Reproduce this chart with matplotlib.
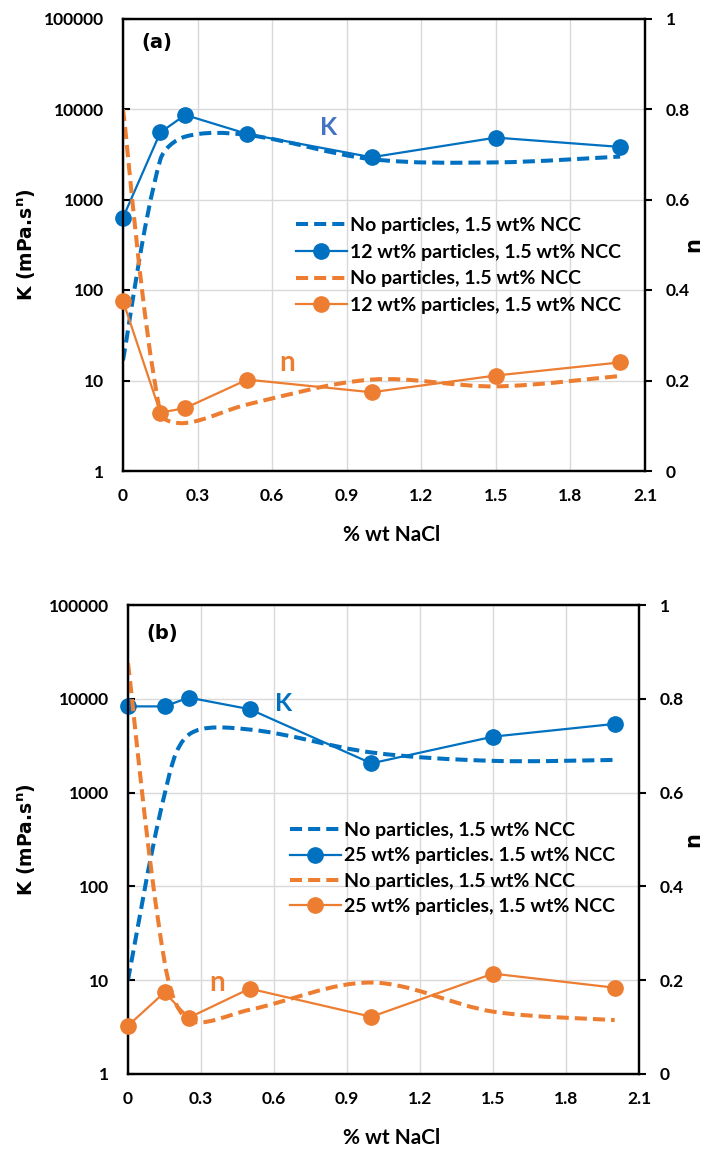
import numpy as np
import matplotlib
matplotlib.use("Agg")
import matplotlib.pyplot as plt
from matplotlib.path import Path
from matplotlib.patches import PathPatch
from matplotlib.lines import Line2D
from matplotlib.ticker import NullLocator

plt.rcParams['mathtext.fontset'] = 'dejavusans'

# ---------------- data ----------------
x_nacl = [0, 0.15, 0.25, 0.5, 1.0, 1.5, 2.0]

a_K_noparticles = [16.7, 2750, 4950, 5170, 2790, 2570, 2980]
a_K_particles = [630, 5500, 8600, 5300, 2930, 4830, 3810]
a_n_noparticles = [0.80, 0.128, 0.106, 0.147, 0.202, 0.187, 0.210]
a_n_particles = [0.376, 0.129, 0.139, 0.202, 0.174, 0.211, 0.240]

b_K_noparticles = [10, 950, 4150, 4700, 2680, 2180, 2230]
b_K_particles = [8300, 8300, 10300, 7750, 2050, 3950, 5400]
b_n_noparticles = [0.876, 0.24, 0.115, 0.137, 0.195, 0.133, 0.115]
b_n_particles = [0.103, 0.174, 0.120, 0.182, 0.122, 0.214, 0.184]

x_ticks = [0, 0.3, 0.6, 0.9, 1.2, 1.5, 1.8, 2.1]
x_ticklabels = ['0', '0.3', '0.6', '0.9', '1.2', '1.5', '1.8', '2.1']
k_ticks = [1, 10, 100, 1000, 10000, 100000]
k_ticklabels = ['1', '10', '100', '1000', '10000', '100000']
n_ticks = [0, 0.2, 0.4, 0.6, 0.8, 1.0]
n_ticklabels = ['0', '0.2', '0.4', '0.6', '0.8', '1']

legend_a = ['No particles, 1.5 wt% NCC', '12 wt% particles, 1.5 wt% NCC',
            'No particles, 1.5 wt% NCC', '12 wt% particles, 1.5 wt% NCC']
legend_b = ['No particles, 1.5 wt% NCC', '25 wt% particles. 1.5 wt% NCC',
            'No particles, 1.5 wt% NCC', '25 wt% particles, 1.5 wt% NCC']

BLUE = '#0070C0'
ORANGE = '#ED7D31'
GRID = '#D9D9D9'
DASH = (0, (3, 1.5))
TICKFONT = dict(family='Lato', weight='bold', size=12.5)

W, H = 705, 1154
fig = plt.figure(figsize=(W / 100, H / 100), dpi=100)


def smooth_patch(ax, xs, ys, color, lw=2.9):
    """Excel-like smoothed line: cubic Bezier through the points (in display space)."""
    pts = ax.transData.transform(np.column_stack([xs, ys]))
    n = len(pts)
    d = np.hypot(*np.diff(pts, axis=0).T)

    def tan(i):
        if i == 0:
            return pts[1] - pts[0]
        if i == n - 1:
            return pts[-1] - pts[-2]
        return pts[i + 1] - pts[i - 1]

    verts = [pts[0]]
    codes = [Path.MOVETO]
    for i in range(n - 1):
        if i == 0:
            c1 = pts[i] + tan(i) / 6.0
        else:
            c1 = pts[i] + tan(i) / 3.0 * d[i] / (d[i - 1] + d[i])
        if i + 1 == n - 1:
            c2 = pts[i + 1] - tan(i + 1) / 6.0
        else:
            c2 = pts[i + 1] - tan(i + 1) / 3.0 * d[i] / (d[i] + d[i + 1])
        verts += [c1, c2, pts[i + 1]]
        codes += [Path.CURVE4] * 3
    dverts = ax.transData.inverted().transform(np.array(verts))
    patch = PathPatch(Path(dverts, codes), fill=False, edgecolor=color, lw=lw,
                      linestyle=DASH, capstyle='butt', joinstyle='round')
    ax.add_patch(patch)


def panel(rect_px, K_no, K_p, n_no, n_p, labels, tag, tag_xy, Kxy, nxy, Kcolor,
          leg_px, leg_space, xlabel_y):
    l, r, t, b = rect_px
    ax = fig.add_axes([l / W, 1 - b / H, (r - l) / W, (b - t) / H])
    ax.set_yscale('log')
    ax.set_xlim(0, 2.1)
    ax.set_ylim(1, 1e5)
    ax.set_xticks(x_ticks)
    ax.set_xticklabels(x_ticklabels, fontdict=TICKFONT)
    ax.set_yticks(k_ticks)
    ax.set_yticklabels(k_ticklabels, fontdict=TICKFONT)
    ax.yaxis.set_minor_locator(NullLocator())
    ax.grid(True, color=GRID, lw=1.0)
    ax.set_axisbelow(True)
    ax.tick_params(axis='x', length=0, pad=12)
    ax.tick_params(axis='y', direction='in', length=5, width=1.5, pad=14)
    for s in ax.spines.values():
        s.set_linewidth(1.6)
        s.set_color('black')

    ax2 = ax.twinx()
    ax2.set_ylim(0, 1)
    ax2.set_yticks(n_ticks)
    ax2.set_yticklabels(n_ticklabels, fontdict=TICKFONT)
    ax2.tick_params(axis='y', direction='out', length=5, width=1.5, pad=10)
    for s in ax2.spines.values():
        s.set_linewidth(1.6)
        s.set_color('black')
    ax.set_autoscale_on(False)
    ax2.set_autoscale_on(False)

    smooth_patch(ax, x_nacl, K_no, BLUE)
    ax.plot(x_nacl, K_p, color=BLUE, lw=1.6, marker='o', ms=11, clip_on=False, zorder=3)
    smooth_patch(ax2, x_nacl, n_no, ORANGE)
    ax2.plot(x_nacl, n_p, color=ORANGE, lw=1.6, marker='o', ms=11, clip_on=False, zorder=3)

    ax.text(tag_xy[0], tag_xy[1], tag, ha='center', va='center',
            family='DejaVu Sans', weight='bold', size=14)
    ax.text(Kxy[0], Kxy[1], 'K', ha='center', va='center', family='Lato',
            weight='bold', size=18, color=Kcolor)
    ax2.text(nxy[0], nxy[1], 'n', ha='center', va='center', family='Lato',
             weight='bold', size=20, color=ORANGE)

    handles = [Line2D([], [], color=BLUE, lw=2.9, ls=DASH),
               Line2D([], [], color=BLUE, lw=1.6, marker='o', ms=11),
               Line2D([], [], color=ORANGE, lw=2.9, ls=DASH),
               Line2D([], [], color=ORANGE, lw=1.6, marker='o', ms=11)]
    ax2.legend(handles, labels, loc='center left',
               bbox_to_anchor=(leg_px[0] / W, 1 - leg_px[1] / H),
               bbox_transform=fig.transFigure, frameon=False,
               handlelength=2.6, handletextpad=0.2, labelspacing=leg_space,
               borderpad=0, borderaxespad=0,
               prop=dict(family='Lato', weight='bold', size=14))

    cy = (t + b) / 2
    fig.text(27 / W, 1 - cy / H, 'K (mPa.s$^{\\mathbf{n}}$)', rotation=90,
             ha='center', va='center', family='DejaVu Sans', weight='bold', size=13.5)
    fig.text(693 / W, 1 - cy / H, 'n', rotation=90, ha='center', va='center',
             family='DejaVu Sans', weight='bold', size=15)
    fig.text((l + r) / 2 / W + 8 / W, 1 - xlabel_y / H, '% wt NaCl', ha='center',
             va='center', family='Lato', weight='bold', size=15)
    return ax, ax2


panel((123, 645, 18.5, 471), a_K_noparticles, a_K_particles, a_n_noparticles,
      a_n_particles, legend_a, '(a)', (0.137, 53700), (0.825, 6300), (0.66, 0.239),
      '#4472C4', (296, 265.5), 0.5, 535)
panel((128, 639, 605, 1074), b_K_noparticles, b_K_particles, b_n_noparticles,
      b_n_particles, legend_b, '(b)', (0.14, 50100), (0.639, 9020), (0.366, 0.194),
      BLUE, (290, 868.5), 0.43, 1138)

fig.savefig('out.png', dpi=100)
